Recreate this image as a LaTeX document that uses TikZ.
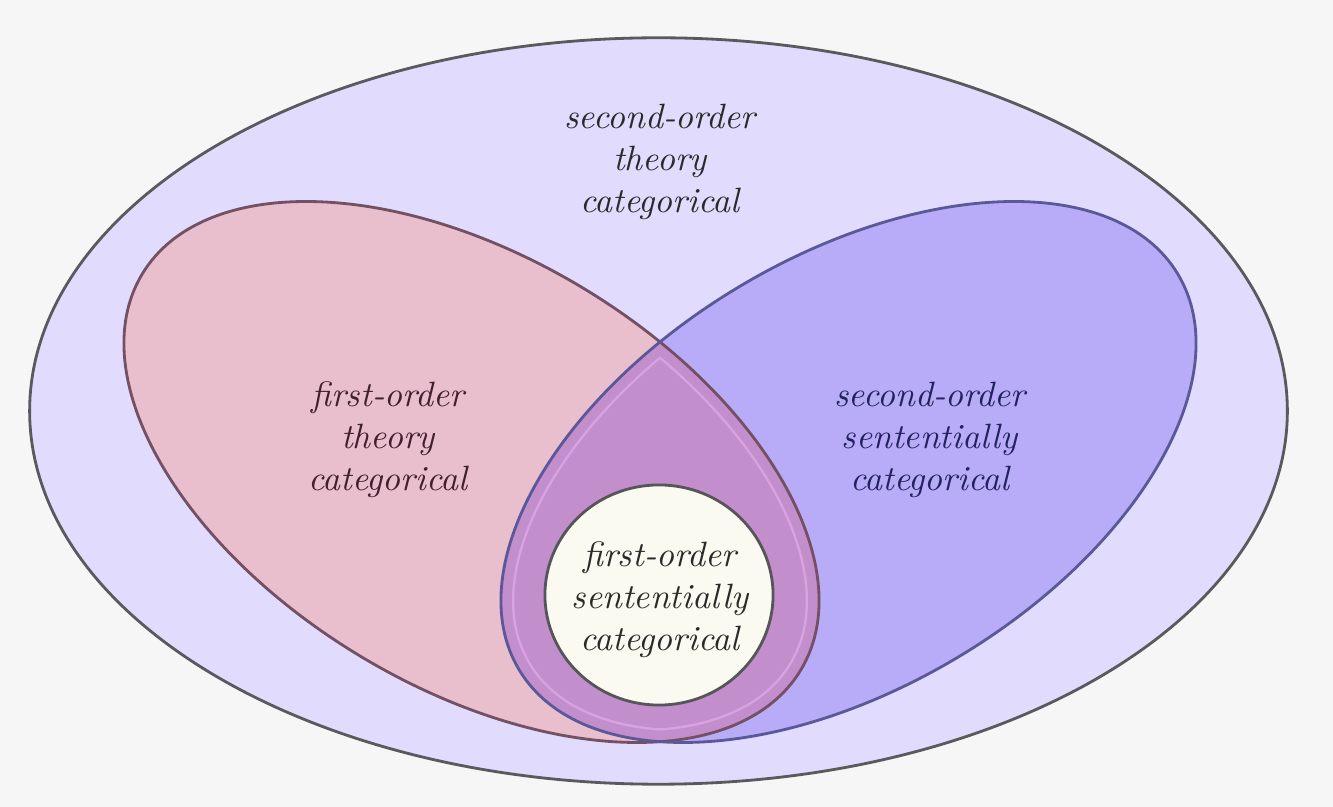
\documentclass[tikz,border=0pt]{standalone}
\usetikzlibrary{calc}
\definecolor{bgc}{HTML}{F6F6F6}
\definecolor{outerfill}{HTML}{E1DCFD}
\definecolor{outerline}{HTML}{5A5A5E}
\definecolor{redfill}{HTML}{E9BFCD}
\definecolor{redline}{HTML}{735064}
\definecolor{bluefill}{HTML}{B8ACF8}
\definecolor{blueline}{HTML}{5A5898}
\definecolor{dropfill}{HTML}{C28ECB}
\definecolor{dropinset}{HTML}{D9A2E2}
\definecolor{innerfill}{HTML}{FAFAF0}
\definecolor{innerline}{HTML}{55555A}
\definecolor{redtext}{HTML}{40202E}
\definecolor{bluetext}{HTML}{22225E}
\definecolor{greytext}{HTML}{2A2A2A}
\tikzset{
  redshape/.style={shift={(471.5,472)}, rotate=-31},
  blueshape/.style={shift={(848.5,472)}, rotate=31},
  label/.style={font=\itshape, align=center, inner sep=0pt},
}
\begin{document}
\begin{tikzpicture}[x=0.01cm, y=-0.01cm]
  \useasboundingbox (0,0) rectangle (1333,807);
  \fill[bgc] (0,0) rectangle (1333,807);
  % outer region
  \draw[fill=outerfill, draw=outerline, line width=0.8pt]
    (658.5,411) ellipse [x radius=6.285cm, y radius=3.73cm];
  % red and blue fills
  \fill[redfill, redshape] (0,0) ellipse [x radius=3.84cm, y radius=2.15cm];
  \fill[bluefill, blueshape] (0,0) ellipse [x radius=3.84cm, y radius=2.15cm];
  % intersection (drop)
  \begin{scope}
    \clip[redshape] (0,0) ellipse [x radius=3.84cm, y radius=2.15cm];
    \fill[dropfill, blueshape] (0,0) ellipse [x radius=3.84cm, y radius=2.15cm];
  \end{scope}
  \begin{scope}
    \clip[redshape] (0,0) ellipse [x radius=3.84cm, y radius=2.15cm];
    \clip[blueshape] (0,0) ellipse [x radius=3.84cm, y radius=2.15cm];
    \draw[dropinset, line width=7.6pt, redshape] (0,0) ellipse [x radius=3.84cm, y radius=2.15cm];
    \draw[dropinset, line width=7.6pt, blueshape] (0,0) ellipse [x radius=3.84cm, y radius=2.15cm];
    \draw[dropfill, line width=6.2pt, redshape] (0,0) ellipse [x radius=3.84cm, y radius=2.15cm];
    \draw[dropfill, line width=6.2pt, blueshape] (0,0) ellipse [x radius=3.84cm, y radius=2.15cm];
  \end{scope}
  % outlines
  \draw[redline, line width=0.8pt, redshape] (0,0) ellipse [x radius=3.84cm, y radius=2.15cm];
  \draw[blueline, line width=0.8pt, blueshape] (0,0) ellipse [x radius=3.84cm, y radius=2.15cm];
  % inner circle
  \draw[fill=innerfill, draw=innerline, line width=0.8pt]
    (659,595) ellipse [x radius=1.14cm, y radius=1.10cm];
  % labels
  \node[label, text=greytext] (so) at (660,162) {second-order\\theory\\categorical};
  \node[label, text=redtext] (fo) at (388,440) {first-order\\theory\\categorical};
  \node[label, text=bluetext] (ss) at (930,440) {second-order\\sententially\\categorical};
  \node[label, text=greytext] (fs) at (660,600) {first-order\\sententially\\categorical};
\end{tikzpicture}
\end{document}
